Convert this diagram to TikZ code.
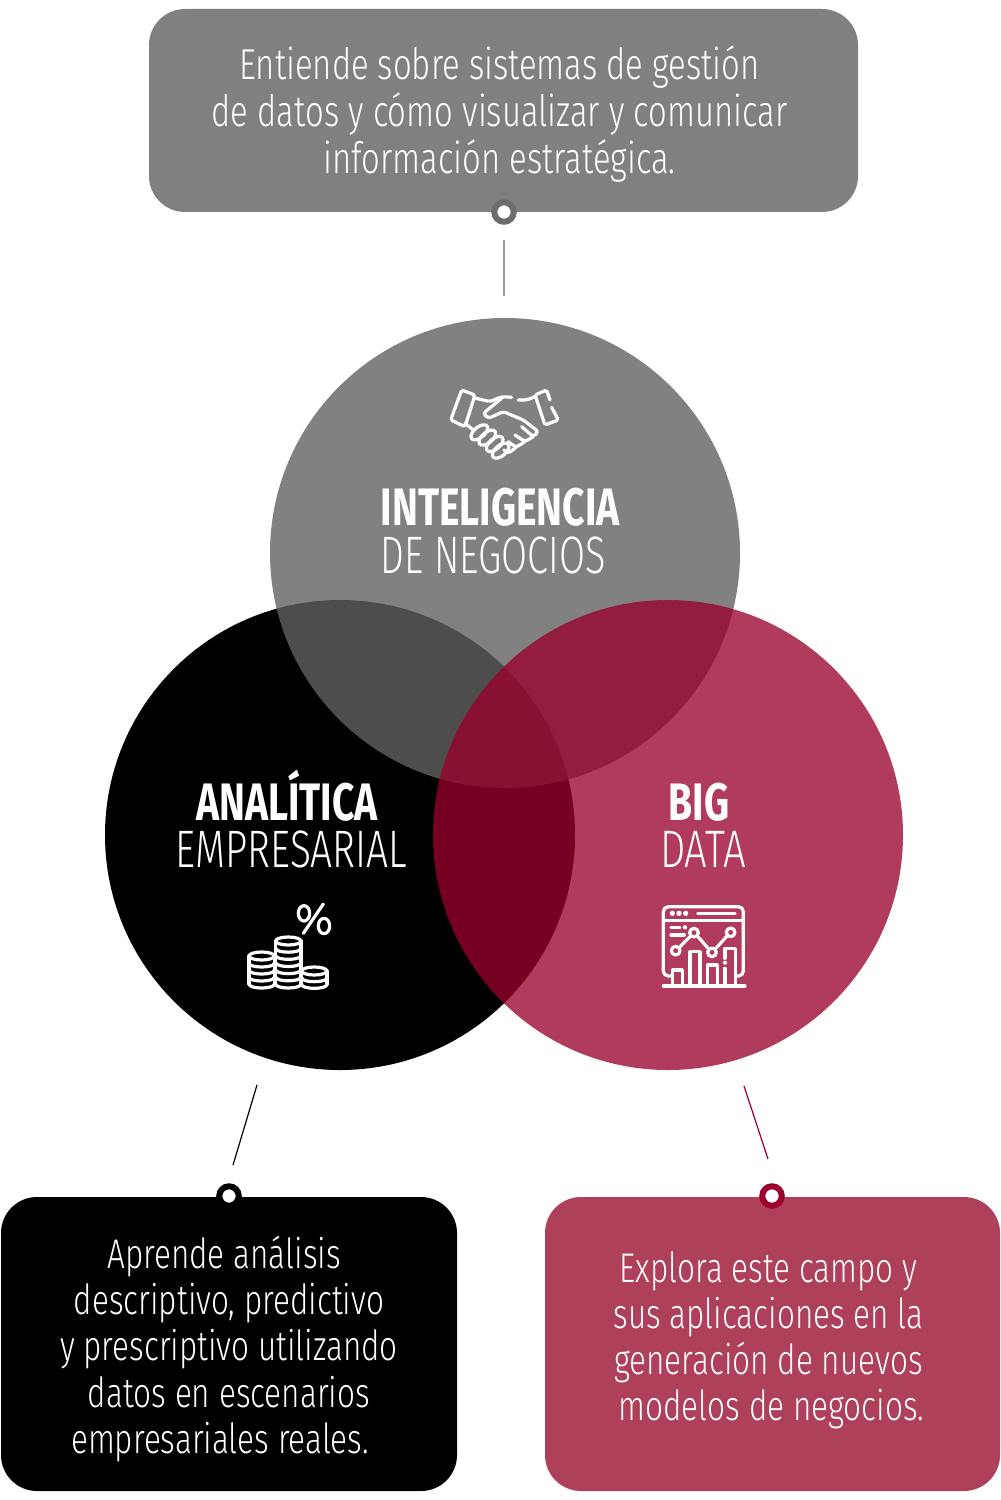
\documentclass[tikz,border=0pt]{standalone}
\usepackage{fontspec}
\setmainfont{Fira Sans}
\newfontfamily\lightfont[FakeStretch=0.76,UprightFont=* Light]{Fira Sans}
\newfontfamily\heavyfont[FakeStretch=0.74,UprightFont=* Bold]{Fira Sans}
\definecolor{tgray}{HTML}{616161}
\definecolor{tred}{HTML}{9A002B}
\definecolor{boxgray}{HTML}{808080}
\definecolor{boxred}{HTML}{AF405A}
\begin{document}
\begin{tikzpicture}[x=0.1mm,y=-0.1mm]
	\tikzstyle{area}=[circle,minimum size=47mm,inner sep=0pt]
	\tikzstyle{card}=[rounded corners=3.6mm,inner sep=0pt]
	\tikzstyle{note}=[inner sep=0pt,text=white,align=center,font=\lightfont\fontsize{11.8}{13.1}\selectfont]
	\tikzstyle{pin}=[circle,fill=white,line width=0.6mm,minimum size=1.95mm,inner sep=0pt]
	\tikzstyle{title}=[text=white,inner sep=0pt,align=center,font=\lightfont\fontsize{15}{13.5}\selectfont]
	\tikzstyle{icon}=[draw=white,line width=0.32mm,line cap=round,line join=round]
	\useasboundingbox (0,0) rectangle (1000,1500);

	\begin{scope}
	\node[area,fill=black] (analitica) at (340,835) {};
	\node[area,fill=tgray,fill opacity=0.8] (inteligencia) at (505,553) {};
	\node[area,fill=tred,fill opacity=0.77] (bigdata) at (668,835) {};

	\node[card,fill=boxgray,minimum width=70.9mm,minimum height=20.3mm] (top) at (503.5,110.5) {};
	\node[card,fill=black,minimum width=45.6mm,minimum height=29.4mm] (left) at (229,1344) {};
	\node[card,fill=boxred,minimum width=45.5mm,minimum height=29.4mm] (right) at (772.5,1344) {};

	\node[note,font=\lightfont\fontsize{12.3}{13.4}\selectfont] (toptext) at (499.5,114)
		{Entiende sobre sistemas de gestión\\de datos y cómo visualizar y comunicar\\información estratégica.};
	\node[note] (lefttext) at (229,1349)
		{Aprende análisis\hspace*{1mm}\\descriptivo, predictivo\\y prescriptivo utilizando\\datos en escenarios\\empresariales reales.\hspace*{1.8mm}};
	\node[note] (righttext) at (768.5,1340)
		{Explora este campo y\\sus aplicaciones en la\\generación de nuevos\\\hspace*{0.6mm}modelos de negocios.};

	\node[pin,draw=boxgray!85!black] (toppin) at (504,212) {};
	\node[pin,draw=black] (leftpin) at (229,1196) {};
	\node[pin,draw=tred] (rightpin) at (772,1196) {};

	\coordinate (topa) at (504,240);
	\coordinate (topb) at (504,296);
	\coordinate (lefta) at (257,1085);
	\coordinate (leftb) at (233,1165);
	\coordinate (righta) at (744,1086);
	\coordinate (rightb) at (768,1159);

	\node[title,align=left,anchor=west] (titletop) at (380,531)
		{{\heavyfont INTELIGENCIA}\\\scalebox{0.94}[1]{DE NEGOCIOS}};
	\node[title] (titleleft) at (291.5,819)
		{{\heavyfont ANALÍTICA}\hspace*{0.9mm}\\\scalebox{0.97}[1]{EMPRESARIAL}};
	\node[title] (titleright) at (703,825)
		{{\heavyfont BIG}\hspace*{0.8mm}\\DATA};
	\end{scope}

	\path[-,line width=0.12mm]
	(topa) edge[draw=black!40] (topb)
	(lefta) edge[draw=black] (leftb)
	(righta) edge[draw=tred] (rightb)
	;

	% handshake
	\begin{scope}[shift={(430,370)},x=0.1mm/3,y=-0.1mm/3,icon]
	\draw[rounded corners=0.5pt] (95,60) -- (135,75) -- (105,170) -- (62,150) -- cycle;
	\draw[rounded corners=0.5pt] (365,112) -- (385,150) -- (345,165) -- (315,75) -- (350,60) -- (360,90);
	\draw[rounded corners=0.8pt] (138,85) -- (180,95) -- (215,80) -- (245,82);
	\draw[rounded corners=0.8pt] (265,90) -- (290,90) -- (315,80);
	\draw[rounded corners=0.8pt] (215,85) -- (160,130) -- (175,145) -- (220,125) -- (280,150) -- (325,185) -- (310,200) -- (275,170);
	\draw[rounded corners=0.8pt] (310,200) -- (285,215) -- (255,195);
	\draw[rounded corners=0.8pt] (285,215) -- (258,232) -- (235,215);
	\draw[rounded corners=0.8pt] (258,232) -- (235,250) -- (222,240);
	\draw (105,160) -- (130,180);
	\foreach \cx/\cy in {148/187,172/203,194/222,212/242}
		\draw[rotate around={40:(\cx,\cy)}] (\cx,\cy) ellipse (8.5pt/3 and 4.5pt/3);
	\end{scope}

	% coins
	\begin{scope}[shift={(230,890)},x=0.1mm/3,y=-0.1mm/3,icon]
	\foreach \lx/\ty/\ny/\gap in {95/198/4/21,175/153/6/21.5,253/243/2/20}{
		\draw (\lx,\ty) ellipse (3.8mm/3 and 1.2mm/3);
		\draw (\lx-38,\ty) -- (\lx-38,\ty+\ny*\gap);
		\draw (\lx+38,\ty) -- (\lx+38,\ty+\ny*\gap);
		\foreach \k in {1,...,\ny}
			\draw (\lx-38,\ty+\k*\gap) .. controls (\lx-38,\ty+\k*\gap+16) and (\lx+38,\ty+\k*\gap+16) .. (\lx+38,\ty+\k*\gap);
	}
	\draw (222,70) ellipse (1.7mm/3 and 2.3mm/3);
	\draw (282,108) ellipse (1.7mm/3 and 2.3mm/3);
	\draw (280,42) -- (220,130);
	\end{scope}

	% dashboard
	\begin{scope}[shift={(645,890)},x=0.1mm/3,y=-0.1mm/3,icon]
	\draw[rounded corners=1.4pt] (82,258) -- (55,258) -- (55,50) -- (295,50) -- (295,258) -- (272,258);
	\draw (55,92) -- (295,92);
	\foreach \dx in {82,102,122}
		\fill[white] (\dx,70) circle (0.75pt);
	\draw (158,70) -- (270,70);
	\draw (78,112) -- (105,112) (78,135) -- (118,135);
	\fill[white] (120,112) circle (0.6pt);
	\draw (82,288) -- (82,240) -- (112,240) -- (112,288);
	\draw (135,288) -- (135,185) -- (165,185) -- (165,288);
	\draw (187,288) -- (187,225) -- (217,225) -- (217,288);
	\draw (240,288) -- (240,235) (240,205) -- (240,175) -- (272,175) -- (272,288);
	\fill[white] (240,218) circle (0.6pt);
	\draw (55,288) -- (300,288);
	\foreach \px/\py in {92/182,147/128,201/187,257/127}
		\draw (\px,\py) circle (1.3mm/3);
	\draw (102,173) -- (137,138) (157,138) -- (191,177) (211,177) -- (247,137);
	\end{scope}
\end{tikzpicture}
\end{document}
